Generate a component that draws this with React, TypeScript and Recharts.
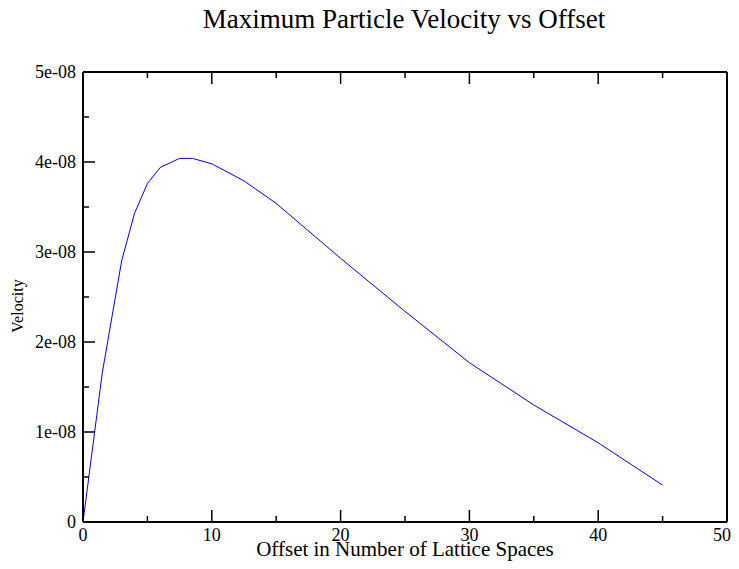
import React from "react";
import { LineChart, Line, XAxis, YAxis } from "recharts";

const offsets = [0, 1.5, 3, 4, 5, 6, 7.5, 8.5, 10, 12.5, 15, 20, 25, 30, 35, 40, 45];
const velocities = [
  0, 1.66e-8, 2.9e-8, 3.43e-8, 3.76e-8, 3.94e-8, 4.04e-8, 4.04e-8, 3.98e-8, 3.79e-8,
  3.54e-8, 2.93e-8, 2.34e-8, 1.77e-8, 1.3e-8, 0.88e-8, 0.41e-8,
];
const xTicks = [0, 5, 10, 15, 20, 25, 30, 35, 40, 45, 50];
const xTickLabels = ["0", "10", "20", "30", "40", "50"];
const yTicks = [0, 0.5e-8, 1e-8, 1.5e-8, 2e-8, 2.5e-8, 3e-8, 3.5e-8, 4e-8, 4.5e-8, 5e-8];
const yTickLabels = ["0", "1e-08", "2e-08", "3e-08", "4e-08", "5e-08"];
const title = "Maximum Particle Velocity vs Offset";
const xTitle = "Offset in Number of Lattice Spaces";
const yTitle = "Velocity";

const data = offsets.map((o, i) => ({ offset: o, velocity: velocities[i] }));

const W = 723;
const H = 553;
const FONT = "'Liberation Serif', 'Times New Roman', serif";
const MAJOR = 12;
const MINOR = 6;
const TICK_W = 1.5;

const LeftTick = (p: any) => {
  const major = p.index % 2 === 0;
  return (
    <g>
      <line x1={p.x} x2={p.x + (major ? MAJOR : MINOR)} y1={p.y} y2={p.y} stroke="#000" strokeWidth={TICK_W} />
      {major && (
        <text x={p.x - 7} y={p.y + 6} textAnchor="end" fontFamily={FONT} fontSize={18} fill="#000">
          {yTickLabels[p.index / 2]}
        </text>
      )}
    </g>
  );
};
const RightTick = (p: any) => {
  const major = p.index % 2 === 0;
  return <line x1={p.x} x2={p.x - (major ? MAJOR : MINOR)} y1={p.y} y2={p.y} stroke="#000" strokeWidth={TICK_W} />;
};
const BottomTick = (p: any) => {
  const major = p.index % 2 === 0;
  const last = p.index === xTicks.length - 1;
  return (
    <g>
      <line x1={p.x} x2={p.x} y1={p.y} y2={p.y - (major ? MAJOR : MINOR)} stroke="#000" strokeWidth={TICK_W} />
      {major && (
        <text
          x={last ? p.x + 4 : p.x}
          y={p.y + 19}
          textAnchor={last ? "end" : "middle"}
          fontFamily={FONT}
          fontSize={18}
          fill="#000"
        >
          {xTickLabels[p.index / 2]}
        </text>
      )}
    </g>
  );
};
const TopTick = (p: any) => {
  const major = p.index % 2 === 0;
  return <line x1={p.x} x2={p.x} y1={p.y} y2={p.y + (major ? MAJOR : MINOR)} stroke="#000" strokeWidth={TICK_W} />;
};

export default function App() {
  const axisLine = { stroke: "#000", strokeWidth: 2 };
  return (
    <div style={{ position: "relative", width: W, height: H }}>
      <LineChart width={W} height={H} data={data} margin={{ top: 63, right: 3, bottom: 1, left: 15 }}>
        <XAxis
          xAxisId="b"
          dataKey="offset"
          type="number"
          domain={[0, 50]}
          ticks={xTicks}
          interval={0}
          orientation="bottom"
          height={38}
          tickSize={0}
          tickMargin={0}
          tickLine={false}
          axisLine={axisLine}
          tick={BottomTick}
        />
        <XAxis
          xAxisId="t"
          dataKey="offset"
          type="number"
          domain={[0, 50]}
          ticks={xTicks}
          interval={0}
          orientation="top"
          height={1}
          tickSize={0}
          tickMargin={0}
          tickLine={false}
          axisLine={axisLine}
          tick={TopTick}
        />
        <YAxis
          yAxisId="l"
          type="number"
          domain={[0, 5e-8]}
          ticks={yTicks}
          interval={0}
          orientation="left"
          width={60}
          tickSize={0}
          tickMargin={0}
          tickLine={false}
          axisLine={axisLine}
          tick={LeftTick}
        />
        <YAxis
          yAxisId="r"
          type="number"
          domain={[0, 5e-8]}
          ticks={yTicks}
          interval={0}
          orientation="right"
          width={1}
          tickSize={0}
          tickMargin={0}
          tickLine={false}
          axisLine={axisLine}
          tick={RightTick}
        />
        <Line
          xAxisId="b"
          yAxisId="l"
          type="linear"
          dataKey="velocity"
          stroke="#0000ff"
          strokeWidth={1}
          dot={false}
          isAnimationActive={false}
        />
      </LineChart>
      <svg
        width={W}
        height={H}
        style={{ position: "absolute", left: 0, top: 0, pointerEvents: "none" }}
      >
        <text x={396} y={19.5} textAnchor="middle" fontFamily={FONT} fontSize={27} fill="#000">
          {title}
        </text>
        <text x={397} y={548} textAnchor="middle" fontFamily={FONT} fontSize={21} fill="#000">
          {xTitle}
        </text>
        <text
          x={0}
          y={0}
          transform="translate(15, 298) rotate(-90)"
          textAnchor="middle"
          fontFamily={FONT}
          fontSize={16}
          fill="#000"
        >
          {yTitle}
        </text>
      </svg>
    </div>
  );
}
